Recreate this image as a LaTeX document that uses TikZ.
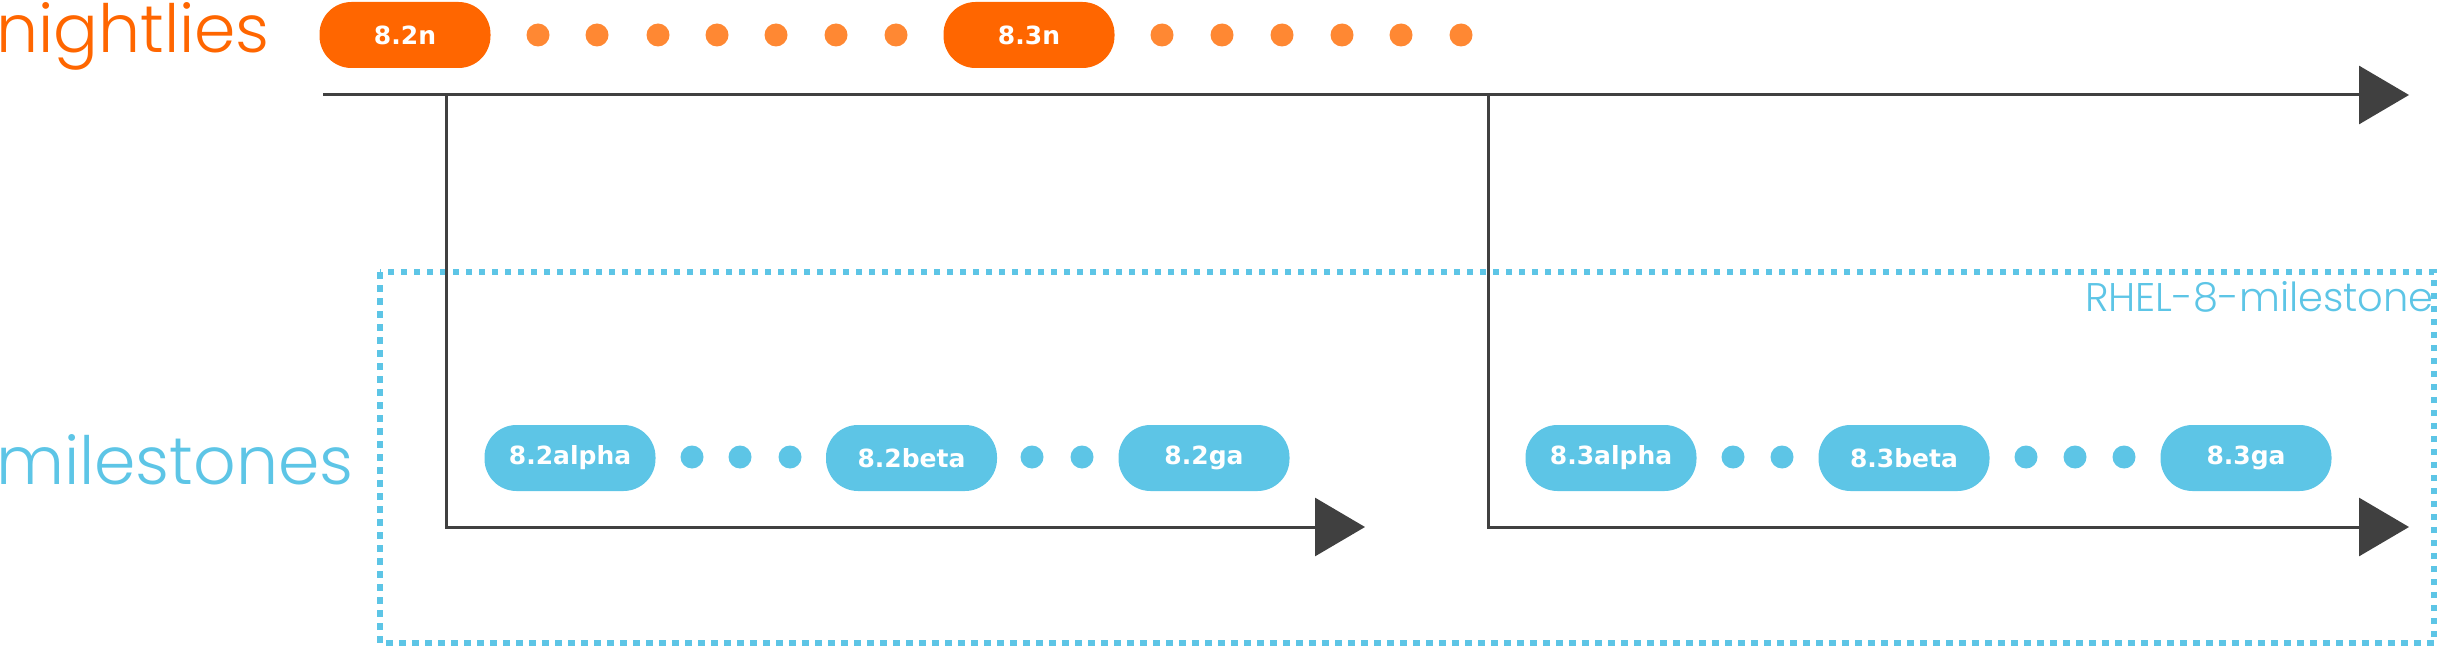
\documentclass[tikz,border=0pt]{standalone}
\usepackage{fontspec}
\usetikzlibrary{arrows.meta}
\IfFontExistsTF{Poppins Light}{\newfontfamily\rhfont{Poppins Light}}{%
  \IfFontExistsTF{Lato Light}{\newfontfamily\rhfont{Lato Light}}{\newfontfamily\rhfont{Lato}}}
\newfontfamily\pillfont{DejaVu Sans}
\definecolor{rhorange}{HTML}{FF6600}
\definecolor{dotorange}{HTML}{FF8833}
\definecolor{rhblue}{HTML}{5DC5E6}
\definecolor{tlgray}{HTML}{404040}
\tikzset{
  pillO/.style={fill=rhorange, text=white, minimum width=171pt, minimum height=66pt,
    rounded corners=32pt, inner sep=0pt,
    font=\pillfont\bfseries\fontsize{25}{30}\selectfont},
  pillB/.style={pillO, fill=rhblue},
  dotO/.style={circle, fill=dotorange, minimum size=23pt, inner sep=0pt},
  dotB/.style={dotO, fill=rhblue},
  tline/.style={draw=tlgray, line width=3pt, line join=miter,
    -{Triangle[length=50pt,width=58pt]}},
  rowlabel/.style={anchor=base west, inner sep=0pt,
    font=\rhfont\fontsize{66.5}{80}\selectfont},
  groupbox/.style={draw=rhblue, line width=6.5pt, dash pattern=on 6.5pt off 6.5pt},
}
\begin{document}
\begin{tikzpicture}[x=1pt,y=-1pt]
\useasboundingbox (0,0) rectangle (2438,647);
% milestone group box
\coordinate (gbA) at (380,272);
\coordinate (gbB) at (2434,643);
\draw[groupbox] (gbA) rectangle (gbB);
% row labels
\node[rowlabel, text=rhorange] (lnight) at (-4,53) {nightlies};
\node[rowlabel, text=rhblue] (lmile) at (-4,484) {milestones};
\node[anchor=base east, inner sep=0pt, text=rhblue,
  font=\rhfont\fontsize{40}{48}\selectfont] (lgroup) at (2434,311) {RHEL-8-milestone};
% timelines
\coordinate (n0) at (323,95);
\coordinate (nend) at (2409,95);
\coordinate (b1) at (446,95);
\coordinate (b2) at (1488,95);
\coordinate (c1) at (446,527);
\coordinate (c2) at (1488,527);
\coordinate (e1) at (1365,527);
\coordinate (e2) at (2409,527);
\draw[tline] (n0) -- (nend);
\draw[tline] (b1) -- (c1) -- (e1);
\draw[tline] (b2) -- (c2) -- (e2);
% nightlies row
\node[pillO] (n82) at (405,35) {8.2n};
\node[pillO] (n83) at (1029,35) {8.3n};
\foreach \x [count=\i] in {538,597,658,717,776,836,896}
  \node[dotO] (na\i) at (\x,35) {};
\foreach \x [count=\i] in {1162,1222,1282,1342,1401,1461}
  \node[dotO] (nb\i) at (\x,35) {};
% milestones row
\node[pillB] (m82a) at (570,458) {8.2alpha};
\node[pillB] (m82b) at (911.5,458) {8.2beta};
\node[pillB] (m82g) at (1204,458) {8.2ga};
\node[pillB] (m83a) at (1611,458) {8.3alpha};
\node[pillB] (m83b) at (1904,458) {8.3beta};
\node[pillB] (m83g) at (2246,458) {8.3ga};
\foreach \x [count=\i] in {692,740,790}
  \node[dotB] (ma\i) at (\x,457) {};
\foreach \x [count=\i] in {1032,1082}
  \node[dotB] (mb\i) at (\x,457) {};
\foreach \x [count=\i] in {1733,1782}
  \node[dotB] (mc\i) at (\x,457) {};
\foreach \x [count=\i] in {2026,2075,2124}
  \node[dotB] (md\i) at (\x,457) {};
\end{tikzpicture}
\end{document}
